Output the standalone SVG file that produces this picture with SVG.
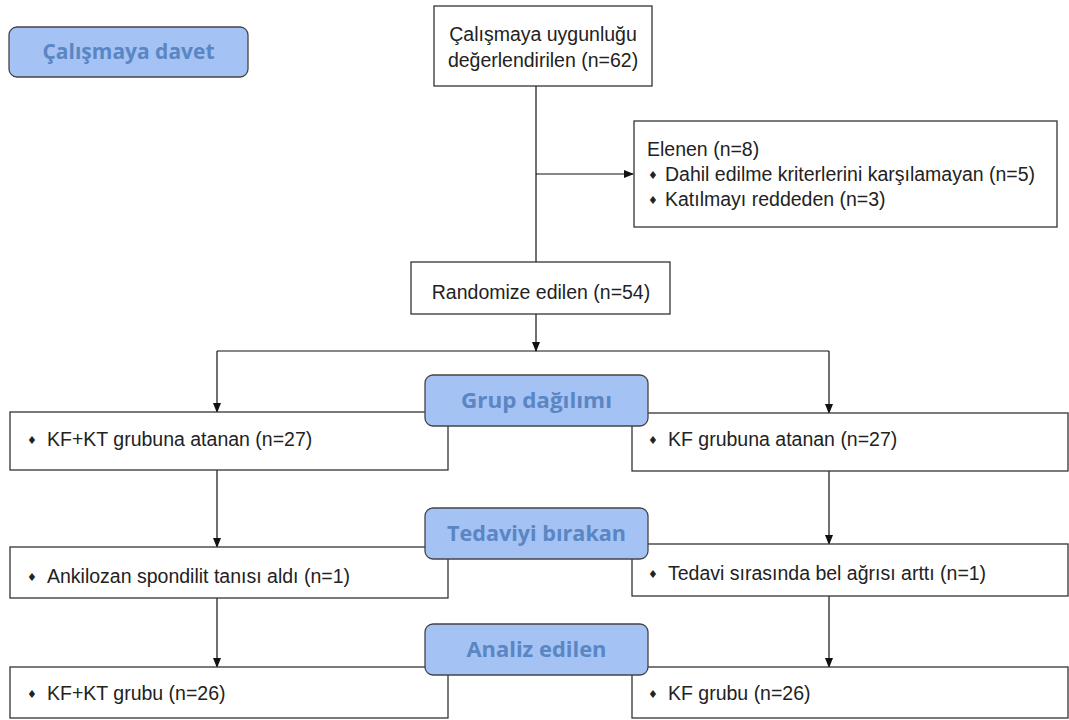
<svg xmlns="http://www.w3.org/2000/svg" width="1069" height="720" viewBox="0 0 1069 720">
<defs>
<marker id="arr" markerWidth="10" markerHeight="10" refX="9" refY="5" orient="auto" markerUnits="userSpaceOnUse">
<path d="M0,1 L10,5 L0,9 Z" fill="#111"/>
</marker>
<style>
.box{fill:#fff;stroke:#333;stroke-width:1.3}
.lab{fill:#a4c2f4;stroke:#444;stroke-width:1.3}
.t{font-family:"Liberation Sans",Arial,sans-serif;font-size:19.5px;fill:#222}
.b{font-family:"DejaVu Sans",sans-serif;font-size:11px;fill:#222}
.h{font-family:"Open Sans","Liberation Sans",sans-serif;font-weight:bold;font-size:21px;fill:#5a86c3}
.c{stroke:#111;stroke-width:1.2;fill:none}
</style>
</defs>
<rect width="1069" height="720" fill="#fff"/>
<g id="connectors">
<line class="c" x1="536" y1="86" x2="536" y2="262"/>
<line class="c" x1="536" y1="174" x2="633" y2="174" marker-end="url(#arr)"/>
<line class="c" x1="536" y1="314" x2="536" y2="351" marker-end="url(#arr)"/>
<line class="c" x1="217" y1="351" x2="829" y2="351"/>
<line class="c" x1="217" y1="351" x2="217" y2="412" marker-end="url(#arr)"/>
<line class="c" x1="829" y1="351" x2="829" y2="413" marker-end="url(#arr)"/>
<line class="c" x1="217" y1="470" x2="217" y2="547" marker-end="url(#arr)"/>
<line class="c" x1="829" y1="471" x2="829" y2="544" marker-end="url(#arr)"/>
<line class="c" x1="217" y1="598" x2="217" y2="667" marker-end="url(#arr)"/>
<line class="c" x1="829" y1="596" x2="829" y2="667" marker-end="url(#arr)"/>
</g>
<g id="uygunluk">
<rect class="box" x="434" y="6" width="218" height="80"/>
<text class="t" x="543" y="41" text-anchor="middle">Çalışmaya uygunluğu</text>
<text class="t" x="543" y="67" text-anchor="middle">değerlendirilen (n=62)</text>
</g>
<g id="elenen">
<rect class="box" x="634" y="121" width="423" height="106"/>
<text class="t" x="647" y="156">Elenen (n=8)</text>
<text class="b" x="648" y="179">♦</text>
<text class="t" x="665" y="181">Dahil edilme kriterlerini karşılamayan (n=5)</text>
<text class="b" x="648" y="204">♦</text>
<text class="t" x="665" y="206">Katılmayı reddeden (n=3)</text>
</g>
<g id="randomize">
<rect class="box" x="411" y="262" width="259" height="52"/>
<text class="t" x="541" y="299" text-anchor="middle">Randomize edilen (n=54)</text>
</g>
<g id="kfkt-atanan">
<rect class="box" x="10" y="412" width="438" height="58"/>
<text class="b" x="27" y="444">♦</text>
<text class="t" x="47" y="446">KF+KT grubuna atanan (n=27)</text>
</g>
<g id="kf-atanan">
<rect class="box" x="632" y="413" width="436" height="58"/>
<text class="b" x="648" y="444">♦</text>
<text class="t" x="668" y="446">KF grubuna atanan (n=27)</text>
</g>
<g id="kfkt-birakan">
<rect class="box" x="10" y="547" width="438" height="51"/>
<text class="b" x="27" y="581">♦</text>
<text class="t" x="47" y="583">Ankilozan spondilit tanısı aldı (n=1)</text>
</g>
<g id="kf-birakan">
<rect class="box" x="632" y="544" width="436" height="52"/>
<text class="b" x="648" y="578">♦</text>
<text class="t" x="668" y="580">Tedavi sırasında bel ağrısı arttı (n=1)</text>
</g>
<g id="kfkt-analiz">
<rect class="box" x="10" y="667" width="438" height="51"/>
<text class="b" x="27" y="698">♦</text>
<text class="t" x="47" y="700">KF+KT grubu (n=26)</text>
</g>
<g id="kf-analiz">
<rect class="box" x="632" y="667" width="436" height="51"/>
<text class="b" x="648" y="698">♦</text>
<text class="t" x="668" y="700">KF grubu (n=26)</text>
</g>
<g id="davet">
<rect class="lab" x="9" y="27" width="239" height="50" rx="8"/>
<text class="h" x="128.5" y="59" text-anchor="middle" textLength="172" lengthAdjust="spacingAndGlyphs">Çalışmaya davet</text>
</g>
<g id="grup">
<rect class="lab" x="425" y="375" width="223" height="51" rx="8"/>
<text class="h" x="536.5" y="408" text-anchor="middle" textLength="151" lengthAdjust="spacingAndGlyphs">Grup dağılımı</text>
</g>
<g id="tedaviyi">
<rect class="lab" x="425" y="508" width="223" height="51" rx="8"/>
<text class="h" x="536.5" y="541" text-anchor="middle" textLength="179" lengthAdjust="spacingAndGlyphs">Tedaviyi bırakan</text>
</g>
<g id="analiz">
<rect class="lab" x="425" y="624" width="223" height="51" rx="8"/>
<text class="h" x="536.5" y="657" text-anchor="middle" textLength="140" lengthAdjust="spacingAndGlyphs">Analiz edilen</text>
</g>
</svg>
